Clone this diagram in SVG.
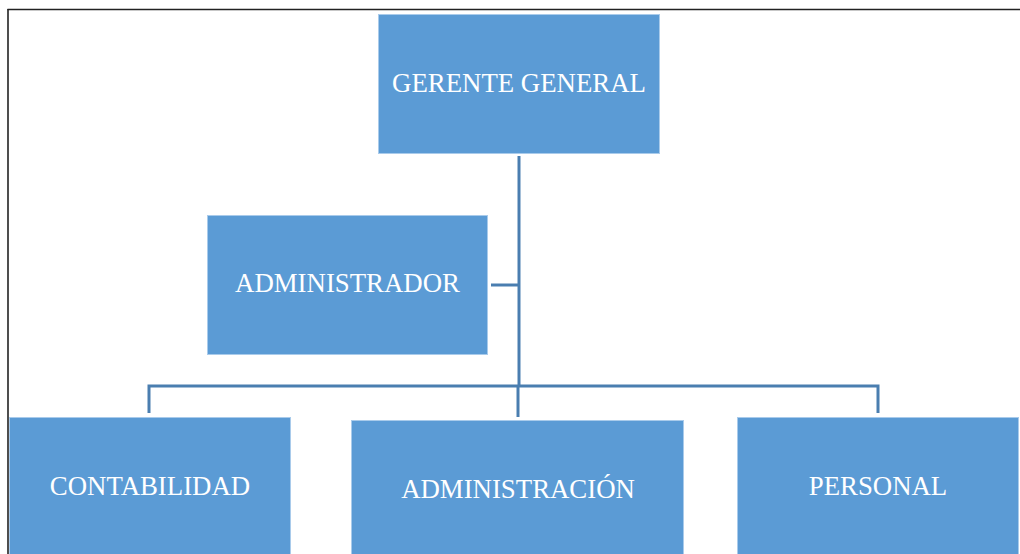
<svg xmlns="http://www.w3.org/2000/svg" width="1020" height="554" viewBox="0 0 1020 554">
<style>
.box{fill:#5B9BD5;stroke:#A9CBEB;stroke-width:1}
.lbl{font-family:"Liberation Serif","Times New Roman",serif;font-size:26.8px;fill:#FFFFFF;text-anchor:middle}
.con{fill:none;stroke:#4A7EB0;stroke-width:3}
.frame{stroke:#222;stroke-width:1.6}
</style>
<rect width="1020" height="554" fill="#FFFFFF"/>
<g id="frame">
<line class="frame" x1="7.5" y1="9.5" x2="1020" y2="9.5"/>
<line class="frame" x1="8" y1="9" x2="8" y2="554"/>
</g>
<g id="connectors">
<line class="con" x1="519" y1="156" x2="519" y2="386"/>
<line class="con" x1="491" y1="285" x2="519" y2="285"/>
<polyline class="con" points="149,413 149,386 878,386 878,413"/>
<line class="con" x1="518" y1="386" x2="518" y2="417"/>
</g>
<g id="gerente">
<rect class="box" x="378.5" y="14.5" width="281" height="139"/>
<text class="lbl" x="519" y="92">GERENTE GENERAL</text>
</g>
<g id="administrador">
<rect class="box" x="207.5" y="215.5" width="280" height="139"/>
<text class="lbl" x="347.5" y="292">ADMINISTRADOR</text>
</g>
<g id="contabilidad">
<rect class="box" x="9.5" y="417.5" width="281" height="140"/>
<text class="lbl" x="150" y="495">CONTABILIDAD</text>
</g>
<g id="administracion">
<rect class="box" x="351.5" y="420.5" width="332" height="140"/>
<text class="lbl" x="518" y="498">ADMINISTRACIÓN</text>
</g>
<g id="personal">
<rect class="box" x="737.5" y="417.5" width="281" height="140"/>
<text class="lbl" x="878" y="495">PERSONAL</text>
</g>
</svg>
